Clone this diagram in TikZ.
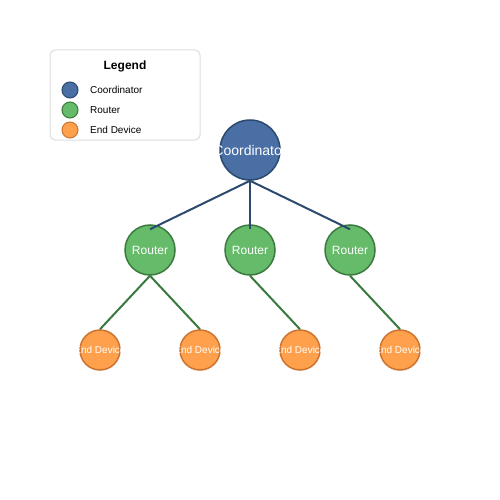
\documentclass[tikz,border=0pt]{standalone}
\usepackage{fontspec}
\setmainfont{Liberation Sans}
\definecolor{coordfill}{HTML}{4A6FA5}
\definecolor{coordline}{HTML}{2C4A6E}
\definecolor{routfill}{HTML}{66BB6A}
\definecolor{routline}{HTML}{3A7A3E}
\definecolor{endfill}{HTML}{FFA04C}
\definecolor{endline}{HTML}{CC7430}
\definecolor{legline}{HTML}{DDDDDD}
\newcommand{\zw}[1]{\makebox[0pt]{#1}}
\tikzset{
  coordnode/.style={circle, draw=coordline, fill=coordfill, line width=1.5pt, minimum size=60pt, inner sep=0pt, text=white, font=\fontsize{14}{16}\selectfont},
  routnode/.style={circle, draw=routline, fill=routfill, line width=1.5pt, minimum size=50pt, inner sep=0pt, text=white, font=\fontsize{12}{14}\selectfont},
  endnode/.style={circle, draw=endline, fill=endfill, line width=1.5pt, minimum size=40pt, inner sep=0pt, text=white, font=\fontsize{10}{12}\selectfont},
  legdot/.style={circle, line width=1pt, minimum size=16pt, inner sep=0pt},
  legtext/.style={anchor=west, inner sep=0pt, font=\fontsize{10}{12}\selectfont},
  blueedge/.style={draw=coordline, line width=2pt},
  greenedge/.style={draw=routline, line width=2pt}
}
\begin{document}
\begin{tikzpicture}[x=1pt,y=-1pt]
\useasboundingbox (0,0) rectangle (500,500);
\fill[white] (0,0) rectangle (500,500);
% legend
\node[draw=legline, fill=white, rounded corners=5pt, line width=1pt, minimum width=150pt, minimum height=90pt, inner sep=0pt] (leg) at (125,95) {};
\node[font=\fontsize{12}{14}\selectfont\bfseries, inner sep=0pt] (legtitle) at (125,66) {Legend};
\node[legdot, draw=coordline, fill=coordfill] (lc) at (70,90) {};
\node[legdot, draw=routline, fill=routfill] (lr) at (70,110) {};
\node[legdot, draw=endline, fill=endfill] (le) at (70,130) {};
\node[legtext] (lct) at (90,90) {Coordinator};
\node[legtext] (lrt) at (90,110) {Router};
\node[legtext] (let) at (90,130) {End Device};
% nodes
\node[coordnode] (c) at (250,150) {\zw{Coordinator}};
\node[routnode] (r1) at (150,250) {\zw{Router}};
\node[routnode] (r2) at (250,250) {\zw{Router}};
\node[routnode] (r3) at (350,250) {\zw{Router}};
\node[endnode] (e1) at (100,350) {\zw{End Device}};
\node[endnode] (e2) at (200,350) {\zw{End Device}};
\node[endnode] (e3) at (300,350) {\zw{End Device}};
\node[endnode] (e4) at (400,350) {\zw{End Device}};
% edges
\draw[blueedge] (c.south) -- ([yshift=-5pt]r1.north);
\draw[blueedge] (c.south) -- ([yshift=-5pt]r2.north);
\draw[blueedge] (c.south) -- ([yshift=-5pt]r3.north);
\draw[greenedge] (r1.south) -- (e1.north);
\draw[greenedge] (r1.south) -- (e2.north);
\draw[greenedge] (r2.south) -- (e3.north);
\draw[greenedge] (r3.south) -- (e4.north);
\end{tikzpicture}
\end{document}
